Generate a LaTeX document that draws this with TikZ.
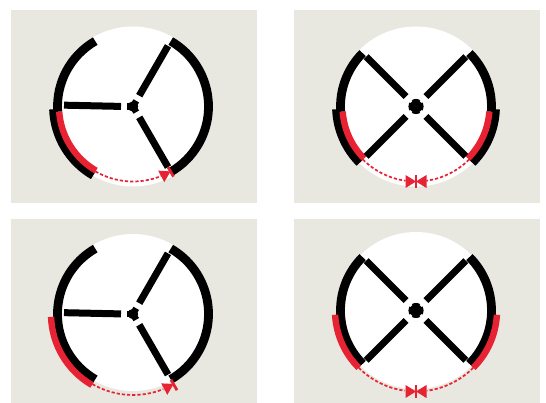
\documentclass[tikz,border=0pt]{standalone}
\definecolor{panelgray}{HTML}{E8E7E0}
\definecolor{accent}{HTML}{E62233}
\tikzset{
  panel/.style={fill=panelgray,draw=none},
  disc/.style={fill=white,draw=none},
  blackarc/.style={draw=black,line width=8.8pt,line cap=butt},
  redarc/.style={draw=accent,line width=6.4pt,line cap=butt},
  spoke/.style={draw=black,line width=7pt,line cap=butt},
  travel/.style={draw=accent,line width=1.7pt,dash pattern=on 3.2pt off 2pt,line cap=butt},
  tick/.style={draw=accent,line width=2.8pt,line cap=butt},
  notch/.style={draw=white,line width=2.6pt,line cap=butt},
}
% arc of given style: style, radius, from angle, to angle
\newcommand{\ringarc}[4]{\draw[#1] (#3:#2pt) arc[start angle=#3,end angle=#4,radius=#2pt];}
\newcommand{\headat}[3]{% angle, radius, rotation
  \begin{scope}[shift={(#1:#2pt)},rotate=#3]
    \fill[accent] (0pt,0pt) -- (-10.5pt,6.5pt) -- (-10.5pt,-6.5pt) -- cycle;
  \end{scope}}
\newcommand{\threehub}{%
  \draw[spoke] (60:12.5pt) -- (60:70pt);
  \draw[spoke] (300:12.5pt) -- (300:70pt);
  \draw[spoke] (179.6:12pt) -- (178.9:69pt);
  \foreach \a in {60,180,300}{
    \draw[draw=black,line width=6.4pt] (\a:0pt) -- (\a:6.5pt);
  }
  \fill[black] (0pt,0pt) circle[radius=5.2pt];
}
\newcommand{\fourhub}{%
  \foreach \a in {45,135,225,315}{
    \draw[spoke] (\a:14pt) -- (\a:70.5pt);
  }
  \fill[black] (0pt,0pt) circle[radius=7.6pt];
  \foreach \a in {45,135,225,315}{
    \draw[notch] (\a:6.4pt) -- (\a:9pt);
  }
}
\begin{document}
\begin{tikzpicture}[x=1pt,y=1pt]
\useasboundingbox (0,0) rectangle (546,403);
% panels
\fill[panel] (11,200) rectangle (257,393);
\fill[panel] (294,200) rectangle (540,393);
\fill[panel] (11,0) rectangle (257,184);
\fill[panel] (294,0) rectangle (540,184);
% top left
\begin{scope}[shift={(133,296.5)}]
  \fill[disc] (0,0) circle[radius=80pt];
  \ringarc{blackarc}{75.5}{60}{-60}
  \ringarc{blackarc}{75.5}{120}{184}
  \ringarc{blackarc}{79.5}{182}{240}
  \ringarc{redarc}{74}{184}{240}
  \threehub
  \ringarc{travel}{75}{240}{292}
  \headat{300}{75}{28}
  \draw[tick] (300:70pt) -- (300:81pt);
\end{scope}
% top right
\begin{scope}[shift={(416,296.5)}]
  \fill[disc] (0,0) circle[radius=80pt];
  \ringarc{blackarc}{75.5}{135}{184}
  \ringarc{blackarc}{75.5}{45}{-4}
  \ringarc{blackarc}{79.5}{182}{225}
  \ringarc{blackarc}{79.5}{-2}{-45}
  \ringarc{redarc}{73.5}{184}{225}
  \ringarc{redarc}{73.5}{-4}{-45}
  \fourhub
  \ringarc{travel}{75}{225}{262}
  \ringarc{travel}{75}{-45}{-82}
  \headat{270}{75}{0}
  \headat{270}{75}{180}
  \draw[tick] (270:68.5pt) -- (270:81.5pt);
\end{scope}
% bottom left
\begin{scope}[shift={(133,89)}]
  \fill[disc] (0,1.5) circle[radius=78.5pt];
  \ringarc{blackarc}{75.5}{60}{-60}
  \ringarc{blackarc}{75.5}{120}{240}
  \ringarc{redarc}{82}{182}{240}
  \threehub
  \ringarc{travel}{81}{240}{292}
  \headat{300}{81}{28}
  \draw[tick] (300:76pt) -- (300:88pt);
\end{scope}
% bottom right
\begin{scope}[shift={(416,92.5)}]
  \fill[disc] (0,0) circle[radius=78.5pt];
  \ringarc{blackarc}{75.5}{135}{225}
  \ringarc{blackarc}{75.5}{45}{-45}
  \ringarc{redarc}{81}{183}{225}
  \ringarc{redarc}{81}{-3}{-45}
  \fourhub
  \ringarc{travel}{81}{225}{262}
  \ringarc{travel}{81}{-45}{-82}
  \headat{270}{81}{0}
  \headat{270}{81}{180}
  \draw[tick] (270:75pt) -- (270:88pt);
\end{scope}
\end{tikzpicture}
\end{document}
